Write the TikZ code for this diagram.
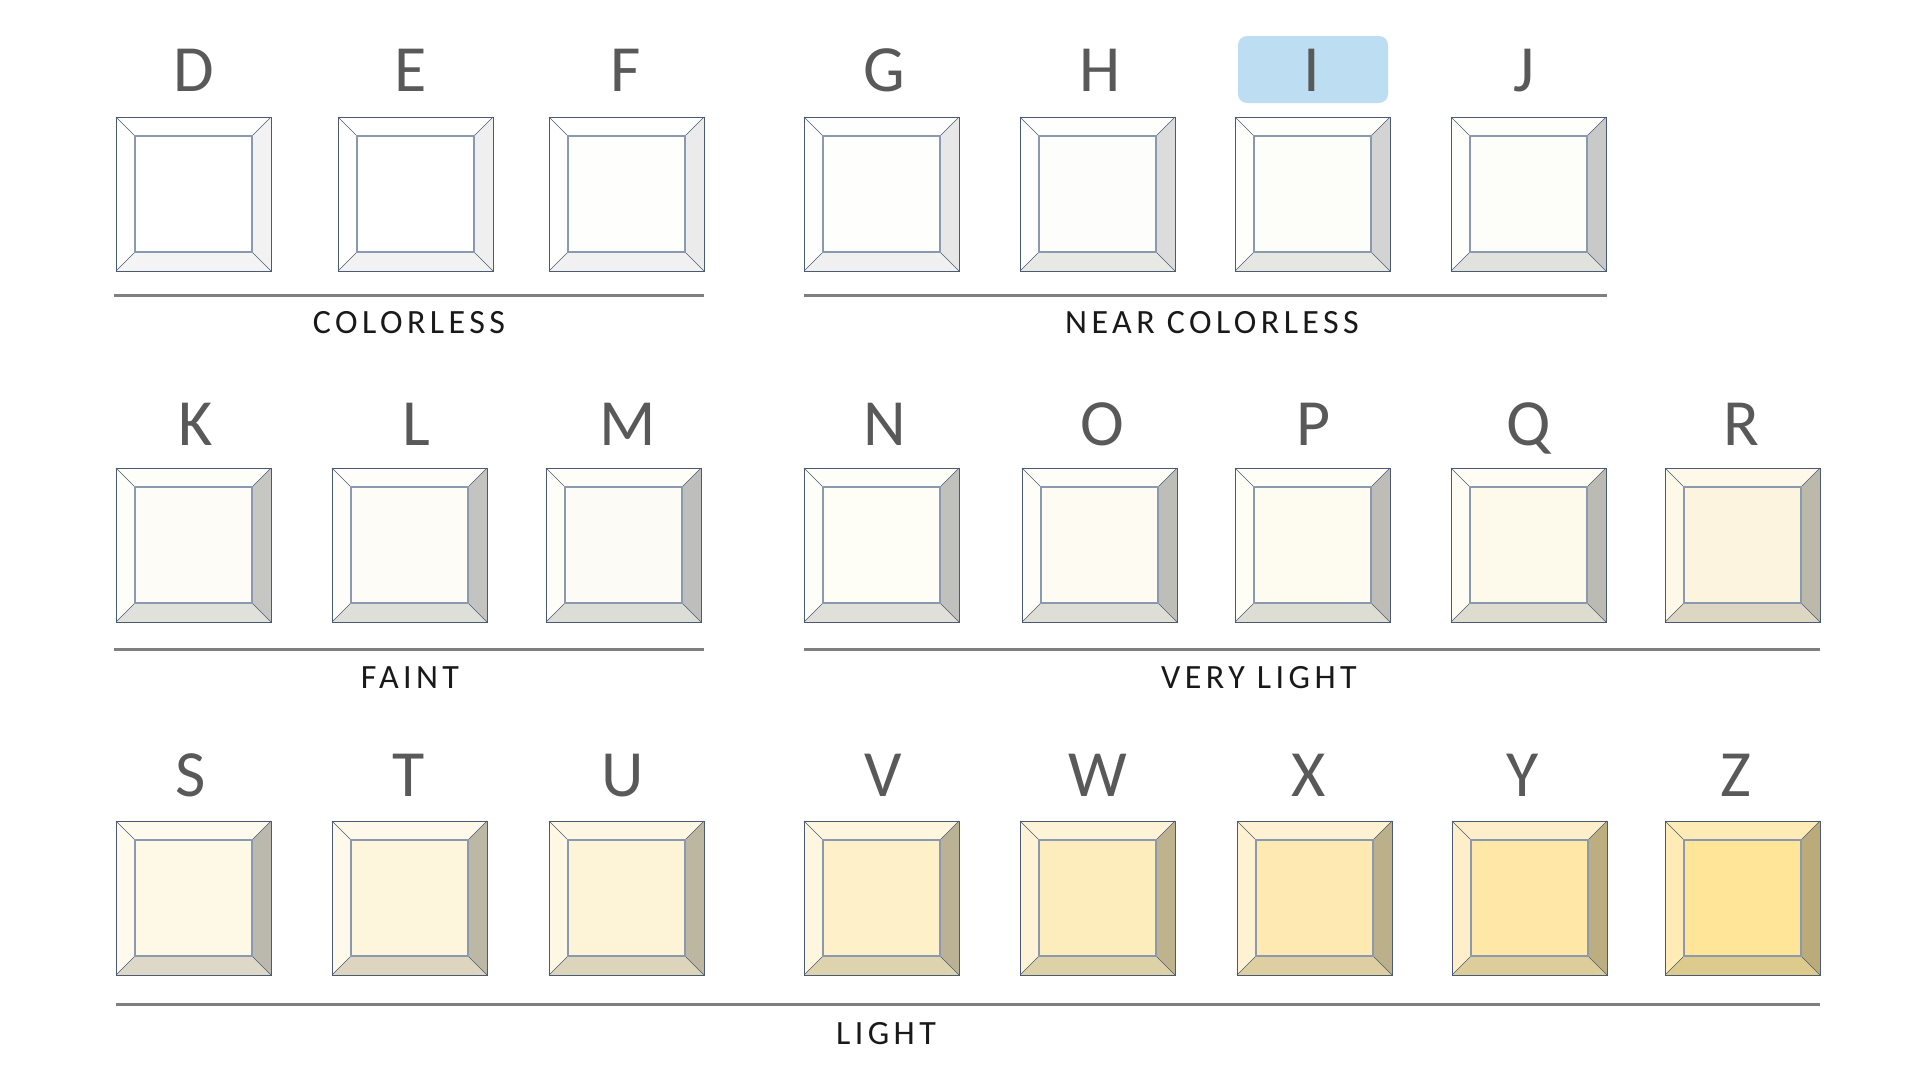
\documentclass[tikz,border=0pt]{standalone}
\usepackage{fontspec}
\setmainfont{Carlito}
\newfontfamily\labelfont[LetterSpace=13]{Carlito}
\definecolor{outerc}{HTML}{4A5A72}
\definecolor{innerc}{HTML}{8A98B0}
\definecolor{sepc}{HTML}{7F7F7F}
\definecolor{letc}{HTML}{595959}
\definecolor{hlc}{HTML}{BDDDF2}
\tikzset{
  outer/.style={draw=outerc, line width=1pt},
  inner/.style={draw=innerc, line width=1.8pt},
  diag/.style={draw=outerc, line width=0.6pt},
  sep/.style={draw=sepc, line width=3pt},
  letter/.style={anchor=base, inner sep=0pt, text=letc, font=\fontsize{66}{70}\selectfont},
  grade/.style={anchor=base, inner sep=0pt, text=black!90, font=\labelfont\fontsize{34}{40}\selectfont},
}
\newcommand\gem[8]{% name, x, y, face, top, left, right, bottom
  \definecolor{gface}{HTML}{#4}\definecolor{gtop}{HTML}{#5}%
  \definecolor{gleft}{HTML}{#6}\definecolor{gright}{HTML}{#7}\definecolor{gbot}{HTML}{#8}%
  \begin{scope}[shift={(#2,#3)}]
    \fill[gtop] (0,0) -- (155,0) -- (136,19) -- (19,19) -- cycle;
    \fill[gleft] (0,0) -- (19,19) -- (19,135) -- (0,154) -- cycle;
    \fill[gright] (155,0) -- (155,154) -- (136,135) -- (136,19) -- cycle;
    \fill[gbot] (0,154) -- (155,154) -- (136,135) -- (19,135) -- cycle;
    \fill[gface] (19,19) rectangle (136,135);
    \draw[diag] (0,0) -- (19,19) (155,0) -- (136,19) (0,154) -- (19,135) (155,154) -- (136,135);
    \draw[inner] (19,19) rectangle (136,135);
    \draw[outer] (0,0) rectangle (155,154);
    \coordinate (#1) at (77.5,77);
  \end{scope}}
\begin{document}
\begin{tikzpicture}[x=1pt,y=-1pt]
\useasboundingbox[fill=white] (0,0) rectangle (1920,1080);
% highlight behind I
\fill[hlc, rounded corners=9pt] (1238,36) rectangle (1388,103);
% row 1
\gem{gD}{116}{117}{FFFFFF}{FFFFFF}{FFFFFF}{F2F2F2}{F4F4F4}
\gem{gE}{338}{117}{FFFFFF}{FFFFFF}{FFFFFF}{EFEFEF}{F2F2F2}
\gem{gF}{549}{117}{FEFEFD}{FFFFFF}{FFFFFF}{EBEBEB}{F1F1F1}
\gem{gG}{804}{117}{FEFEFD}{FEFEFE}{FEFEFE}{E7E7E7}{F0F0F0}
\gem{gH}{1020}{117}{FDFDFB}{FEFEFC}{FEFEFC}{DCDCDC}{E8E8E5}
\gem{gI}{1235}{117}{FDFDFA}{FEFEFB}{FEFEFB}{D3D3D3}{E6E6E3}
\gem{gJ}{1451}{117}{FDFDF9}{FEFEFA}{FEFEFA}{C9C9C9}{E1E1DE}
% row 2
\gem{gK}{116}{468}{FDFCF7}{FEFEF9}{FEFEF9}{C6C6C3}{E1E1DC}
\gem{gL}{332}{468}{FDFCF6}{FEFDF9}{FEFDF9}{C3C3C0}{DFDFDA}
\gem{gM}{546}{468}{FDFBF5}{FEFDF8}{FEFDF8}{BEBEBC}{DDDDD8}
\gem{gN}{804}{468}{FEFDF6}{FEFEF9}{FEFEF9}{C0C0BC}{E0DFD9}
\gem{gO}{1022}{468}{FEFCF2}{FEFDF7}{FEFDF7}{BEBEB9}{DFDED6}
\gem{gP}{1235}{468}{FEFCF0}{FEFDF6}{FEFDF6}{BDBCB7}{DEDDD4}
\gem{gQ}{1451}{468}{FDFAEC}{FEFCF3}{FEFCF3}{BCBBB3}{DDDCCE}
\gem{gR}{1665}{468}{FCF4DF}{FDF8E8}{FDF8E8}{BCB9AA}{DCD6C3}
% row 3
\gem{gS}{116}{821}{FEF8E6}{FEFAEE}{FEFAEE}{BBB9AD}{DDD8C7}
\gem{gT}{332}{821}{FDF5DC}{FEF9EA}{FEF9EA}{BDB8A6}{DDD5BF}
\gem{gU}{549}{821}{FDF3D6}{FEF7E4}{FEF7E4}{BDB7A2}{DCD4BB}
\gem{gV}{804}{821}{FEF1C9}{FEF6DF}{FEF6DF}{BBB296}{DED3AF}
\gem{gW}{1020}{821}{FEEDBC}{FEF3D6}{FEF3D6}{BFB38F}{DDD1A8}
\gem{gX}{1237}{821}{FEE9B3}{FEF2D2}{FEF2D2}{BCB08A}{DDCFA2}
\gem{gY}{1452}{821}{FEE7A7}{FEEFCA}{FEEFCA}{BDAE82}{DDCD9A}
\gem{gZ}{1665}{821}{FEE597}{FEEBB6}{FEEBB6}{BBAB7A}{DDCB8E}
% letters
\foreach \L/\x in {D/193.5,E/411,F/626,G/884,H/1100,I/1312,J/1524} { \node[letter] (l\L) at (\x,91) {\L}; }
\foreach \L/\x in {K/196,L/416,M/628,N/885,O/1102,P/1314,Q/1529,R/1741} { \node[letter] (l\L) at (\x,445) {\L}; }
\foreach \L/\x in {S/191,T/409,U/623,V/883,W/1098,X/1309,Y/1523,Z/1736} { \node[letter] (l\L) at (\x,796) {\L}; }
% separator lines
\draw[sep] (114,295) -- (704,295);
\draw[sep] (804,295) -- (1607,295);
\draw[sep] (114,649) -- (704,649);
\draw[sep] (804,649) -- (1820,649);
\draw[sep] (116,1004) -- (1820,1004);
% grade labels
\node[grade] (c1) at (409,333) {COLORLESS};
\node[grade] (c2) at (1212,333) {NEAR COLORLESS};
\node[grade] (c3) at (410,688) {FAINT};
\node[grade] (c4) at (1259,688) {VERY LIGHT};
\node[grade] (c5) at (886,1044) {LIGHT};
\end{tikzpicture}
\end{document}
